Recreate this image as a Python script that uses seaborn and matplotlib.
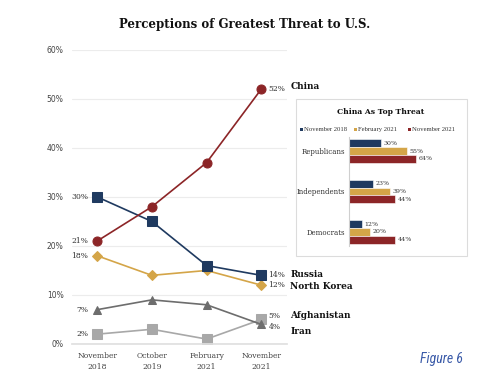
import matplotlib
matplotlib.use("Agg")
import matplotlib.pyplot as plt
import seaborn as sns
import pandas as pd
from matplotlib.patches import Rectangle

# ---------------- data ----------------
periods = ["November\n2018", "October\n2019", "February\n2021", "November\n2021"]
series_names = ["China", "Russia", "North Korea", "Iran", "Afghanistan"]
china = [21, 28, 37, 52]
russia = [30, 25, 16, 14]
north_korea = [18, 14, 15, 12]
iran = [7, 9, 8, 4]
afghanistan = [2, 3, 1, 5]
yticks = [0, 10, 20, 30, 40, 50, 60]

inset_groups = ["Republicans", "Independents", "Democrats"]
inset_periods = ["November 2018", "February 2021", "November 2021"]
nov_2018 = [30, 23, 12]
feb_2021 = [55, 39, 20]
nov_2021 = [64, 44, 44]

# ---------------- style ----------------
sns.set_theme(style="white")
plt.rcParams["font.family"] = ["DejaVu Serif"]

colors = {
    "China": "#8c2527",
    "Russia": "#1f3a60",
    "North Korea": "#d4a548",
    "Iran": "#6d6d6d",
    "Afghanistan": "#a8a8a8",
}
markers = {"China": "o", "Russia": "s", "North Korea": "D", "Iran": "^", "Afghanistan": "s"}
msizes = {"China": 6.5, "Russia": 6.5, "North Korea": 4.8, "Iran": 6.2, "Afghanistan": 6.5}
values = {"China": china, "Russia": russia, "North Korea": north_korea,
          "Iran": iran, "Afghanistan": afghanistan}

fig = plt.figure(figsize=(5.0, 3.78), dpi=100)
ax = fig.add_axes([0.144, 0.09, 0.43, 0.778])

rows = []
for name in series_names:
    for i, v in enumerate(values[name]):
        rows.append({"series": name, "idx": i, "value": v})
df = pd.DataFrame(rows)

for name in ["Afghanistan", "Iran", "North Korea", "Russia", "China"]:
    sub = df[df.series == name]
    sns.lineplot(data=sub, x="idx", y="value", ax=ax, color=colors[name],
                 marker=markers[name], markersize=msizes[name],
                 markeredgecolor=colors[name], linewidth=1.2, legend=False)

ax.set_xlim(-0.46, 3.47)
ax.set_ylim(0, 60)
ax.set_yticks(yticks)
ax.set_yticklabels([f"{t}%" for t in yticks], fontsize=5.5, color="#444444",
                   family="DejaVu Sans")
ax.set_xticks(range(len(periods)))
ax.set_xticklabels(periods, fontsize=5.5, color="#444444", linespacing=1.5)
ax.tick_params(axis="both", length=0, pad=6)
ax.set_xlabel("")
ax.set_ylabel("")
ax.grid(axis="y", color="#ececec", linewidth=0.8)
for s in ["top", "right", "left"]:
    ax.spines[s].set_visible(False)
ax.spines["bottom"].set_color("#e0e0e0")

# value labels
lab_kw = dict(fontsize=5.5, color="#333333", va="center")
for name in series_names:
    v0 = values[name][0]
    ax.text(-0.16, v0, f"{v0}%", ha="right", **lab_kw)
last_off = {"China": 0, "Russia": 0, "North Korea": 0, "Iran": -0.5, "Afghanistan": 0.7}
for name in series_names:
    v = values[name][-1]
    ax.text(3.13, v + last_off[name], f"{v}%", ha="left", **lab_kw)

# series name labels
name_y = {"China": 52.5, "Russia": 14.2, "North Korea": 11.8, "Afghanistan": 5.9, "Iran": 2.6}
for name, y in name_y.items():
    ax.text(3.53, y, name, ha="left", va="center", fontsize=6.5,
            color="#111111", fontweight="bold", clip_on=False)

fig.text(0.49, 0.935, "Perceptions of Greatest Threat to U.S.", ha="center",
         va="center", fontsize=8.5, fontweight="heavy", color="#111111")

fig.text(0.84, 0.05, "Figure 6", ha="left", va="center", fontsize=10,
         style="italic", color="#3a5aa8", fontstretch="condensed",
         family=["Roboto Condensed", "DejaVu Sans Condensed",
                 "Liberation Sans Narrow", "Roboto"])

# ---------------- inset ----------------
box = Rectangle((296 / 500, 1 - 256 / 378), (467 - 296) / 500, (256 - 99) / 378,
                transform=fig.transFigure, facecolor="white", edgecolor="#dcdcdc",
                linewidth=0.8, zorder=5)
fig.patches.append(box)

fig.text(381 / 500, 1 - 112 / 378, "China As Top Threat", ha="center", va="center",
         fontsize=5.5, fontweight="heavy", color="#111111", zorder=6)

inset_colors = [colors["Russia"], colors["North Korea"], colors["China"]]
lx = [300, 354, 408]
for x0, lbl, c in zip(lx, inset_periods, inset_colors):
    fig.patches.append(Rectangle((x0 / 500, 1 - 131 / 378), 3 / 500, 3 / 378,
                                 transform=fig.transFigure, facecolor=c,
                                 edgecolor="none", zorder=6))
    fig.text((x0 + 4) / 500, 1 - 129.5 / 378, lbl, ha="left", va="center",
             fontsize=4.8, color="#333333", zorder=6, family="Liberation Serif")

rows = []
for g, a, b, c in zip(inset_groups, nov_2018, feb_2021, nov_2021):
    rows.append({"group": g, "period": inset_periods[0], "pct": a})
    rows.append({"group": g, "period": inset_periods[1], "pct": b})
    rows.append({"group": g, "period": inset_periods[2], "pct": c})
idf = pd.DataFrame(rows)

iax = fig.add_axes([349 / 500, 1 - 246 / 378, 105 / 500, (246 - 137) / 378], zorder=7)
iax.set_facecolor("none")
sns.barplot(data=idf, y="group", x="pct", hue="period", orient="h",
            palette=inset_colors, width=0.58, ax=iax, legend=False,
            saturation=1, edgecolor="white", linewidth=0.4)
iax.set_xlim(0, 100)
iax.set_ylim(2.35, -0.35)
iax.set_xticks([])
iax.tick_params(axis="y", length=0, pad=3, labelsize=5, labelcolor="#333333")
iax.set_xlabel("")
iax.set_ylabel("")
for s in ["top", "right", "bottom"]:
    iax.spines[s].set_visible(False)
iax.spines["left"].set_color("#cfcfcf")
iax.spines["left"].set_linewidth(0.8)
for cont in iax.containers:
    iax.bar_label(cont, labels=[f"{int(v)}%" for v in cont.datavalues],
                  fontsize=4.5, color="#333333", padding=2)

fig.savefig("out.png", dpi=100, facecolor="white")
